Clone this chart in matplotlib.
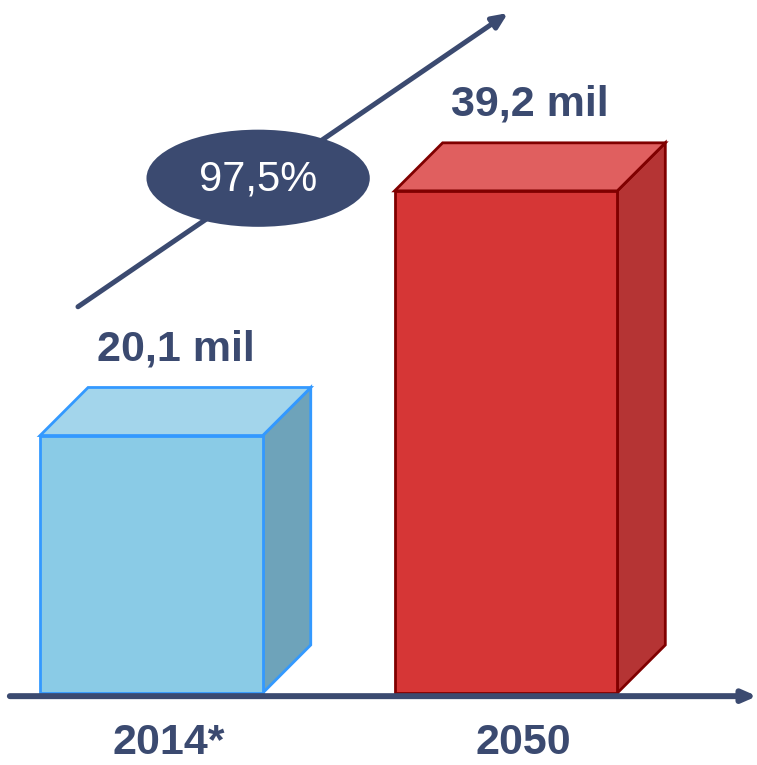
import matplotlib.pyplot as plt
from matplotlib.patches import Polygon, Ellipse

# data
years = ['2014*', '2050']
values = [20.1, 39.2]  # millions
value_labels = ['20,1 mil', '39,2 mil']
growth_label = '97,5%'

navy = '#3b4a70'
front_cols = ['#8acbe6', '#d63636']
top_cols = ['#a3d5eb', '#e05f5f']
side_cols = ['#6ea3ba', '#b53434']
edge_cols = ['#3399ff', '#800000']

plt.rcParams['font.family'] = ['Liberation Sans', 'DejaVu Sans']

fig = plt.figure(figsize=(7.57, 7.65), dpi=100)
ax = fig.add_axes([0, 0, 1, 1])
ax.set_xlim(-0.427, 1.708)
ax.set_ylim(-5.62, 54.1)
ax.axis('off')

width = 0.628
dx, dy = 0.1354, 3.75  # 3d depth offset

for i, v in enumerate(values):
    x0 = i - width / 2
    x1 = i + width / 2
    front = Polygon([(x0, 0), (x1, 0), (x1, v), (x0, v)], closed=True,
                    facecolor=front_cols[i], edgecolor=edge_cols[i], lw=2, zorder=3)
    top = Polygon([(x0, v), (x1, v), (x1 + dx, v + dy), (x0 + dx, v + dy)], closed=True,
                  facecolor=top_cols[i], edgecolor=edge_cols[i], lw=2, zorder=2)
    side = Polygon([(x1, 0), (x1 + dx, dy), (x1 + dx, v + dy), (x1, v)], closed=True,
                   facecolor=side_cols[i], edgecolor=edge_cols[i], lw=2, zorder=2)
    for p in (side, top, front):
        ax.add_patch(p)
    ax.text(i + dx / 2, v + dy + 1.4, value_labels[i], ha='center', va='bottom',
            fontsize=31, fontweight='bold', color=navy)
    ax.text(i + 0.05, -5.45, years[i], ha='center', va='bottom',
            fontsize=31, fontweight='bold', color=navy)

# baseline axis with arrow
ax.annotate('', xy=(1.0, 0.090), xytext=(0.013, 0.090), xycoords='axes fraction',
            arrowprops=dict(arrowstyle='-|>,head_length=0.8,head_width=0.35',
                            color=navy, lw=4.3, shrinkA=0, shrinkB=0), zorder=4)

# growth arrow
ax.annotate('', xy=(0.671, 0.983), xytext=(0.103, 0.599), xycoords='axes fraction',
            arrowprops=dict(arrowstyle='-|>,head_length=0.9,head_width=0.4',
                            color=navy, lw=3.6, shrinkA=0, shrinkB=0), zorder=1)
ell = Ellipse((0.341, 0.767), 0.295, 0.127, transform=ax.transAxes,
              facecolor=navy, edgecolor='none', zorder=5)
ax.add_patch(ell)
ax.text(0.341, 0.765, growth_label, transform=ax.transAxes, ha='center', va='center',
        fontsize=30, color='white', zorder=6)

fig.savefig('out.png', dpi=100)
